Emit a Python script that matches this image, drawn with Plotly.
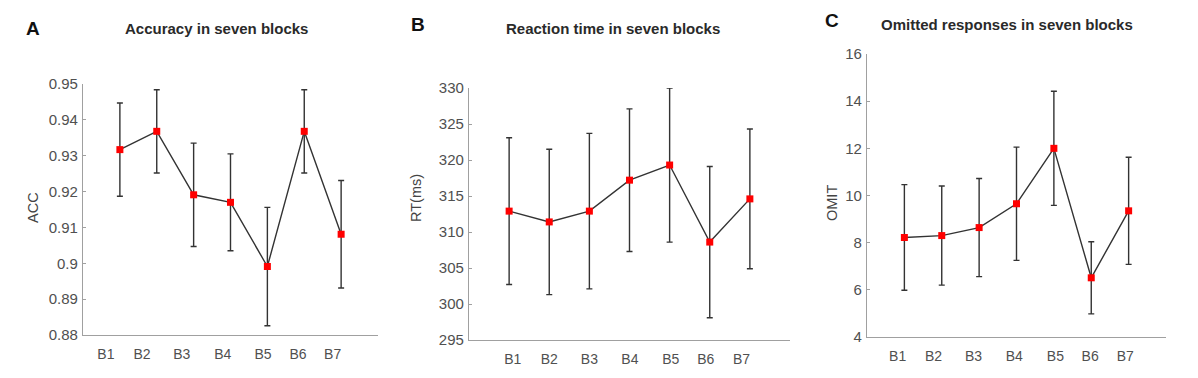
import plotly.graph_objects as go

# The page body adds an 8px margin, so the figure is sized to the remaining
# window and reference pixel positions are converted with that offset.
WIN_W, WIN_H = 1198, 378
OFF = 8
W, H = WIN_W - OFF, WIN_H - OFF

blocks = ["B1", "B2", "B3", "B4", "B5", "B6", "B7"]

acc_mean = [0.9317, 0.9368, 0.9191, 0.9170, 0.8991, 0.9368, 0.9081]
acc_err = [0.0130, 0.0116, 0.0144, 0.0135, 0.0165, 0.0116, 0.0150]

rt_mean = [312.9, 311.4, 312.9, 317.2, 319.3, 308.6, 314.6]
rt_err = [10.2, 10.1, 10.8, 9.9, 10.7, 10.5, 9.7]

omit_mean = [8.22, 8.30, 8.64, 9.65, 12.00, 6.51, 9.35]
omit_err = [2.24, 2.10, 2.08, 2.40, 2.42, 1.53, 2.27]

acc_ticks = [0.88, 0.89, 0.90, 0.91, 0.92, 0.93, 0.94, 0.95]
acc_ticktext = ["0.88", "0.89", "0.9", "0.91", "0.92", "0.93", "0.94", "0.95"]
rt_ticks = [295, 300, 305, 310, 315, 320, 325, 330]
omit_ticks = [4, 6, 8, 10, 12, 14, 16]

FONT = "Liberation Sans, Arial, sans-serif"
xpos = list(range(1, 8))

fig = go.Figure()

def add_series(y, err, n):
    fig.add_trace(go.Scatter(
        x=xpos, y=y,
        mode="lines+markers",
        line=dict(color="#333333", width=1.4),
        marker=dict(symbol="square", size=7, color="#ff0000"),
        error_y=dict(type="data", array=err, visible=True,
                     color="#333333", thickness=1.4, width=3),
        xaxis="x" + ("" if n == 1 else str(n)),
        yaxis="y" + ("" if n == 1 else str(n)),
        showlegend=False,
    ))

add_series(acc_mean, acc_err, 1)
add_series(rt_mean, rt_err, 2)
add_series(omit_mean, omit_err, 3)

def px_x(a, b):
    return [(a - OFF) / W, (b - OFF) / W]

def px_y(top, bottom):
    return [(H - (bottom - OFF)) / H, (H - (top - OFF)) / H]

# label positions (in data units) of the block names under each panel
lab_a = [0.62, 1.60, 2.68, 3.79, 4.88, 5.83, 6.77]
lab_b = [1.09, 2.00, 3.00, 4.01, 5.03, 5.90, 6.79]
lab_c = [0.82, 1.78, 2.85, 3.94, 5.04, 5.97, 6.91]

axis_common_x = dict(
    range=[0, 8], showgrid=False, zeroline=False, showline=True,
    linecolor="#a0a0a0", linewidth=1.2, ticks="", automargin=False,
    tickfont=dict(family=FONT, size=14, color="#505050"),
    ticklabelstandoff=6,
)
axis_common_y = dict(
    showgrid=False, zeroline=False, showline=True, automargin=False,
    linecolor="#a0a0a0", linewidth=1.2, ticks="inside", ticklen=3,
    tickcolor="#a0a0a0",
    tickfont=dict(family=FONT, size=15, color="#505050"),
    ticklabelstandoff=1,
)

fig.update_layout(
    width=W, height=H,
    margin=dict(l=0, r=0, t=0, b=0, pad=0, autoexpand=False),
    paper_bgcolor="white", plot_bgcolor="white",
    xaxis=dict(domain=px_x(83, 378), anchor="y", tickvals=lab_a, ticktext=blocks, **axis_common_x),
    yaxis=dict(domain=px_y(84, 335), anchor="x", range=[0.88, 0.95],
               tickvals=acc_ticks, ticktext=acc_ticktext, **axis_common_y),
    xaxis2=dict(domain=px_x(469, 790), anchor="y2", tickvals=lab_b, ticktext=blocks, **axis_common_x),
    yaxis2=dict(domain=px_y(88, 340), anchor="x2", range=[295, 330],
                tickvals=rt_ticks, **axis_common_y),
    xaxis3=dict(domain=px_x(867, 1166), anchor="y3", tickvals=lab_c, ticktext=blocks, **axis_common_x),
    yaxis3=dict(domain=px_y(54, 337), anchor="x3", range=[4, 16],
                tickvals=omit_ticks, **axis_common_y),
)

def ann(text, x, y, size, bold=False, color="#222222", angle=0):
    fig.add_annotation(
        text=("<b>%s</b>" % text) if bold else text,
        x=(x - OFF) / W, y=(H - (y - OFF)) / H, xref="paper", yref="paper",
        xanchor="center", yanchor="middle", showarrow=False, textangle=angle,
        font=dict(family=FONT, size=size, color=color),
    )

ann("A", 33, 28, 19, bold=True, color="#111111")
ann("B", 418, 25, 19, bold=True, color="#111111")
ann("C", 832, 20, 19, bold=True, color="#111111")

ann("Accuracy in seven blocks", 217, 28, 15, bold=True, color="#2a2a2a")
ann("Reaction time in seven blocks", 613, 28, 15, bold=True, color="#2a2a2a")
ann("Omitted responses in seven blocks", 1007, 25, 15, bold=True, color="#2a2a2a")

ann("ACC", 33, 208, 14.5, color="#444444", angle=-90)
ann("RT(ms)", 416, 198, 14.5, color="#444444", angle=-90)
ann("OMIT", 832, 203, 14.5, color="#444444", angle=-90)

fig.write_html("out.html")
